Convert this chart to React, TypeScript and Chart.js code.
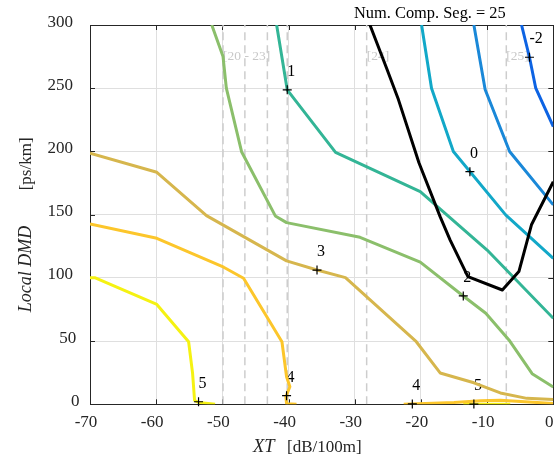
import React, { useEffect, useRef } from "react";
import { Chart, registerables } from "chart.js";

Chart.register(...registerables);

// Axis ticks
const xTickValues = [-70, -60, -50, -40, -30, -20, -10, 0];
const yTickValues = [0, 50, 100, 150, 200, 250, 300];

// Curves (XT [dB/100m], local DMD [ps/km])
const mode5aX = [-70, -69.2, -59.9, -55.1, -54.5, -54.2, -53.6, -51.1];
const mode5aY = [100, 100, 79, 49.5, 24.5, 3, 1.5, 0];
const mode5bX = [-13.6, -6.5];
const mode5bY = [0, 0];

const mode4aX = [-70, -59.9, -49.8, -46.8, -41.0, -40.3, -39.8, -40.4, -40.3, -38.8];
const mode4aY = [142.6, 131.3, 108.4, 99.7, 49.5, 21.8, 13.9, 6, 0.5, 0];
const mode4bX = [-22.6, -15, -11, -8, 0];
const mode4bY = [0, 1.5, 2.8, 3.2, 0.6];

const mode3X = [-70, -59.9, -52.4, -40.3, -35.7, -31.4, -20.7, -17.1, -12, -8, -4, 0];
const mode3Y = [198.6, 183.5, 149.2, 113.4, 106.2, 100.2, 49.5, 24.8, 17, 9, 4.7, 3.8];

const mode2X = [-51.6, -49.9, -49.4, -47.1, -42.0, -40.3, -29.2, -20.1, -13.6, -10.2, -6.7, -3.2, 0];
const mode2Y = [300, 275, 250, 199.8, 149, 143.7, 132.1, 112.4, 85.7, 72, 50.9, 24.2, 13.6];

const mode1X = [-41.8, -40.2, -32.9, -20.1, -10, 0];
const mode1Y = [300, 248.7, 199.2, 168.2, 122, 68];

const mode0X = [-19.9, -18.4, -15.1, -7.2, 0];
const mode0Y = [300, 250, 200, 149.8, 115.5];

const modeM1X = [-12.0, -10.3, -6.6, 0];
const modeM1Y = [300, 249, 200, 157.7];

const modeM2X = [-4.8, -3.6, -2.65, 0];
const modeM2Y = [300, 274.5, 250, 219.6];

const totalX = [-27.7, -25.2, -23.4, -20.3, -17.1, -15.6, -12.9, -7.7, -5.2, -3.3, 0];
const totalY = [300, 266, 241, 191, 148.4, 130, 101, 90.4, 105, 142, 176];

// Markers with their labels
const markerX = [-53.6, -40.3, -21.3, -12.0, -35.7, -13.6, -40.2, -12.6, -3.6];
const markerY = [2, 6.8, 0.3, 0.2, 106.2, 85.7, 248.7, 184, 274.5];
const markerLabels = ["5", "4", "4", "5", "3", "2", "1", "0", "-2"];

// Segment boundaries (dashed) and their labels
const boundaryX = [-49.9, -46.6, -43.2, -40.2, -28.2, -7.1];
const segmentLabelX = [-49.9, -28.2, -7.1];
const segmentLabels = ["[20 - 23]", "[24]", "[25]"];

const titleText = "Num. Comp. Seg. = 25";

const SERIF = "'Liberation Serif', 'Times New Roman', serif";
const AXIS = "#262626";

const pts = (xs: number[], ys: number[]) => xs.map((x, i) => ({ x, y: ys[i] }));

const lineDs = (label: string, xs: number[], ys: number[], color: string, order: number) => ({
  type: "line" as const,
  label,
  data: pts(xs, ys),
  borderColor: color,
  backgroundColor: color,
  borderWidth: 3,
  pointRadius: 0,
  fill: false,
  tension: 0,
  borderJoinStyle: "round" as const,
  order,
});

const decoPlugin = {
  id: "deco",
  beforeDatasetsDraw(chart: any) {
    const { ctx, chartArea: a, scales } = chart;
    const xs = scales.x;
    const ys = scales.y;
    ctx.save();
    // box
    ctx.strokeStyle = AXIS;
    ctx.lineWidth = 1;
    ctx.strokeRect(Math.round(a.left) + 0.5, Math.round(a.top) + 0.5, Math.round(a.right - a.left), Math.round(a.bottom - a.top));
    // inner tick marks
    ctx.beginPath();
    xTickValues.forEach((v) => {
      const px = Math.round(xs.getPixelForValue(v)) + 0.5;
      ctx.moveTo(px, a.bottom);
      ctx.lineTo(px, a.bottom - 5);
      ctx.moveTo(px, a.top);
      ctx.lineTo(px, a.top + 5);
    });
    yTickValues.forEach((v) => {
      const py = Math.round(ys.getPixelForValue(v)) + 0.5;
      ctx.moveTo(a.left, py);
      ctx.lineTo(a.left + 5, py);
      ctx.moveTo(a.right, py);
      ctx.lineTo(a.right - 5, py);
    });
    ctx.stroke();

    // segment labels
    ctx.fillStyle = "#c8c8c8";
    ctx.font = `13.5px ${SERIF}`;
    ctx.textAlign = "left";
    ctx.textBaseline = "alphabetic";
    segmentLabelX.forEach((v, i) => {
      ctx.fillText(segmentLabels[i], xs.getPixelForValue(v), a.top + 35);
    });

    // marker labels
    ctx.fillStyle = "#000";
    ctx.font = `16px ${SERIF}`;
    markerX.forEach((v, i) => {
      ctx.fillText(markerLabels[i], xs.getPixelForValue(v), ys.getPixelForValue(markerY[i]) - 14);
    });
    ctx.restore();
  },
  afterDraw(chart: any) {
    const { ctx, chartArea: a, scales } = chart;
    const xs = scales.x;
    const ys = scales.y;
    ctx.save();
    ctx.fillStyle = AXIS;
    ctx.font = `17px ${SERIF}`;
    // x tick labels
    ctx.textAlign = "center";
    ctx.textBaseline = "alphabetic";
    xTickValues.forEach((v) => {
      ctx.fillText(String(v), xs.getPixelForValue(v) - 4, a.bottom + 23);
    });
    // y tick labels
    ctx.textAlign = "right";
    yTickValues.forEach((v) => {
      const s = String(v);
      ctx.fillText(s, a.left - 17 + (3 - s.length) * 3.2, ys.getPixelForValue(v) + 1.5);
    });

    // x title
    ctx.textAlign = "left";
    ctx.font = `italic 18.5px ${SERIF}`;
    const xTitleLeft = a.left + 163;
    ctx.fillText("XT", xTitleLeft, a.bottom + 48);
    ctx.font = `17px ${SERIF}`;
    ctx.fillText("[dB/100m]", xTitleLeft + 34, a.bottom + 48);

    // y title (rotated)
    ctx.save();
    ctx.translate(a.left - 59.5, a.bottom - 92);
    ctx.rotate(-Math.PI / 2);
    ctx.font = `italic 18px ${SERIF}`;
    ctx.fillText("Local DMD", 0, 0);
    ctx.font = `17px ${SERIF}`;
    ctx.fillText("[ps/km]", 122, 0);
    ctx.restore();

    // title
    ctx.fillStyle = "#000";
    ctx.font = `16.4px ${SERIF}`;
    ctx.textAlign = "left";
    ctx.fillText(titleText, a.left + 264, a.top - 7);
    ctx.restore();
  },
};

export default function App() {
  const ref = useRef<HTMLCanvasElement | null>(null);

  useEffect(() => {
    if (!ref.current) return;
    const boundaryDs = boundaryX.map((bx, i) => ({
      type: "line" as const,
      label: `b${i}`,
      data: [
        { x: bx, y: 0 },
        { x: bx, y: 300 },
      ],
      borderColor: "#cdcdcd",
      borderWidth: 1.5,
      borderDash: [8, 5],
      pointRadius: 0,
      fill: false,
      order: 20,
    }));

    const datasets: any[] = [
      {
        type: "scatter",
        label: "markers",
        data: pts(markerX, markerY),
        pointStyle: "cross",
        pointRadius: 4.5,
        borderColor: "#000",
        backgroundColor: "#000",
        pointBorderWidth: 1.2,
        borderWidth: 1.2,
        showLine: false,
        order: 0,
        clip: false,
      },
      lineDs("total", totalX, totalY, "#000000", 1),
      lineDs("m-2", modeM2X, modeM2Y, "#0d63e3", 2),
      lineDs("m-1", modeM1X, modeM1Y, "#1a88d8", 3),
      lineDs("m0", mode0X, mode0Y, "#12a8c8", 4),
      lineDs("m1", mode1X, mode1Y, "#33b596", 5),
      lineDs("m2", mode2X, mode2Y, "#8bbf6b", 6),
      lineDs("m3", mode3X, mode3Y, "#d6b64d", 7),
      lineDs("m4a", mode4aX, mode4aY, "#fcc62b", 8),
      lineDs("m4b", mode4bX, mode4bY, "#fcc62b", 8),
      lineDs("m5a", mode5aX, mode5aY, "#f5f212", 9),
      lineDs("m5b", mode5bX, mode5bY, "#f5f212", 9),
      ...boundaryDs,
    ];

    const chart = new Chart(ref.current, {
      type: "line",
      data: { datasets },
      options: {
        animation: false,
        responsive: false,
        maintainAspectRatio: false,
        layout: { padding: { left: 0, right: 6.7, top: 25, bottom: 0 } },
        plugins: {
          legend: { display: false },
          tooltip: { enabled: false },
          title: { display: false },
        },
        scales: {
          x: {
            type: "linear",
            min: -70,
            max: 0,
            ticks: { stepSize: 10, display: false },
            grid: { color: "#dfdfdf", lineWidth: 1, drawTicks: false },
            border: { display: false },
            afterFit: (s: any) => {
              s.height = 53.7;
            },
          },
          y: {
            type: "linear",
            min: 0,
            max: 300,
            ticks: { stepSize: 50, display: false },
            grid: { color: "#dfdfdf", lineWidth: 1, drawTicks: false },
            border: { display: false },
            afterFit: (s: any) => {
              s.width = 90;
            },
          },
        },
      },
      plugins: [decoPlugin],
    });
    return () => chart.destroy();
  }, []);

  return (
    <div style={{ position: "absolute", left: 0, top: 0, width: 560, height: 458, background: "#fff" }}>
      <canvas ref={ref} width={560} height={458} style={{ display: "block" }} />
    </div>
  );
}
